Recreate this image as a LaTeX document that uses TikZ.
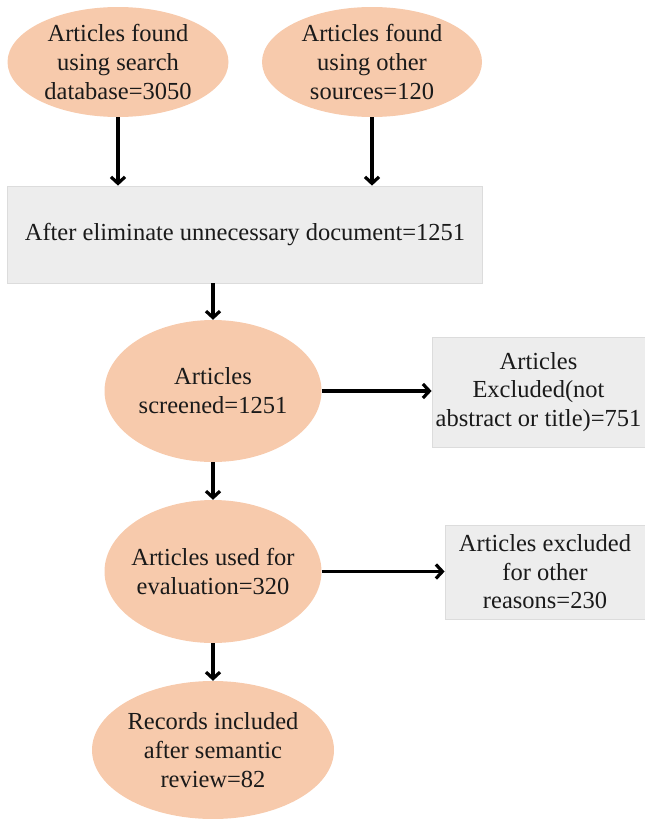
\documentclass[tikz,border=0pt]{standalone}
\usepackage{fontspec}
\setmainfont{Liberation Serif}
\usetikzlibrary{shapes.geometric,arrows.meta}
\definecolor{peach}{HTML}{F7CAAC}
\definecolor{boxgray}{HTML}{EDEDED}
\definecolor{boxline}{HTML}{DCDCDC}
\definecolor{txt}{HTML}{1A1A1A}
\begin{document}
\begin{tikzpicture}[x=1pt,y=-1pt,
  ell/.style={ellipse, fill=peach, inner sep=0pt},
  lbl/.style={inner sep=0pt, align=center, text=txt, font=\fontsize{24.5}{29}\selectfont},
  gbox/.style={rectangle, fill=boxgray, draw=boxline, line width=0.8pt, inner sep=0pt, align=center, text=txt, font=\fontsize{24.5}{28.5}\selectfont},
  arr/.style={line width=3.2pt, -{Straight Barb[length=6.5pt,width=14pt,line width=3.2pt]}}]
\useasboundingbox (0,0) rectangle (645,819);
\node[ell, minimum width=221pt, minimum height=110pt] (e1) at (118,62) {};
\node[lbl] (e1t) at (e1) {Articles found\\using search\\database=3050};
\node[ell, minimum width=220pt, minimum height=110pt] (e2) at (372,62) {};
\node[lbl] (e2t) at (e2) {Articles found\\using other\\sources=120};
\node[gbox, minimum width=475pt, minimum height=97pt] (b1) at (245,234.5) {After eliminate unnecessary document=1251};
\node[ell, minimum width=217pt, minimum height=142pt] (e3) at (213,391) {};
\node[lbl] (e3t) at (e3) {Articles\\screened=1251};
\node[gbox, minimum width=213pt, minimum height=110pt] (b2) at (538.5,392) {Articles\\Excluded(not\\abstract or title)=751};
\node[ell, minimum width=217pt, minimum height=143pt] (e4) at (213,571.5) {};
\node[lbl] (e4t) at (e4) {Articles used for\\evaluation=320};
\node[gbox, minimum width=200pt, minimum height=94pt] (b3) at (545,572) {Articles excluded\\for other\\reasons=230};
\node[ell, minimum width=242pt, minimum height=138pt] (e5) at (213,750) {};
\node[lbl] (e5t) at (e5) {Records included\\after semantic\\review=82};
\draw[arr] (e1.south) -- (e1.south |- b1.north);
\draw[arr] (e2.south) -- (e2.south |- b1.north);
\draw[arr] (b1.south -| e3.north) -- (e3.north);
\draw[arr] (e3.east) -- (e3.east -| b2.west);
\draw[arr] (e3.south) -- (e4.north);
\draw[arr] (e4.east) -- (e4.east -| b3.west);
\draw[arr] (e4.south) -- (e5.north);
\end{tikzpicture}
\end{document}
